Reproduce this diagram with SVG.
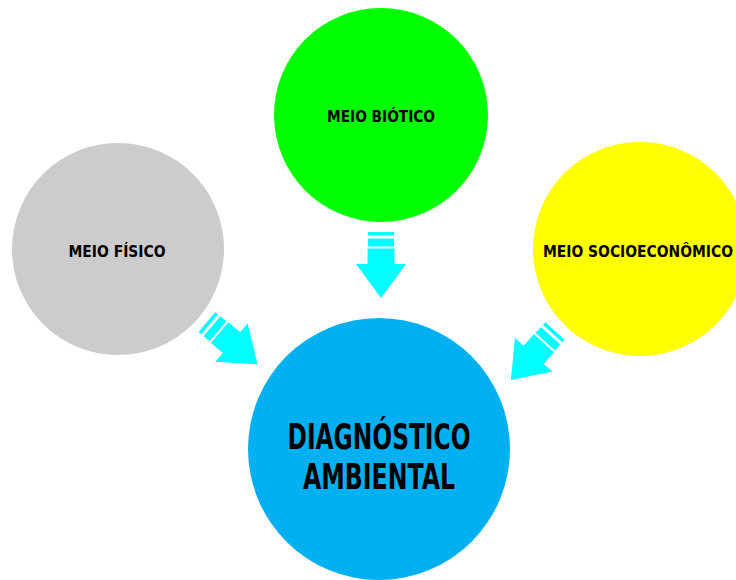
<svg xmlns="http://www.w3.org/2000/svg" width="736" height="580" viewBox="0 0 736 580">
<style>
.t{font-family:"DejaVu Sans Condensed","Liberation Sans",sans-serif;fill:#000;text-anchor:middle}
.s{font-size:16px;font-weight:bold}
.b{font-size:36px;font-weight:bold}
.a{fill:#00FFFF}
</style>
<defs>
<g id="arr">
<rect x="-13" y="0" width="26" height="3.5"/>
<rect x="-13" y="6.5" width="26" height="8"/>
<polygon points="-13.5,16.5 13.5,16.5 13.5,32 25,32 0,66 -25,32 -13.5,32"/>
</g>
</defs>
<rect width="736" height="580" fill="#fff"/>
<g id="biotico">
<circle cx="381" cy="115" r="107" fill="#00FF00"/>
<text class="t s" x="381" y="122" textLength="108" lengthAdjust="spacingAndGlyphs">MEIO BIÓTICO</text>
</g>
<g id="fisico">
<circle cx="118" cy="249" r="106" fill="#CCCCCC"/>
<text class="t s" x="117" y="257" textLength="97" lengthAdjust="spacingAndGlyphs">MEIO FÍSICO</text>
</g>
<g id="socio">
<circle cx="640" cy="249" r="107" fill="#FFFF00"/>
<text class="t s" x="638" y="257" textLength="190" lengthAdjust="spacingAndGlyphs">MEIO SOCIOECONÔMICO</text>
</g>
<g id="diagnostico">
<circle cx="379" cy="449" r="131" fill="#00B0F0"/>
<text class="t b" x="379" y="449" textLength="183" lengthAdjust="spacingAndGlyphs">DIAGNÓSTICO</text>
<text class="t b" x="379" y="489" textLength="152" lengthAdjust="spacingAndGlyphs">AMBIENTAL</text>
</g>
<g id="connectors" class="a">
<use href="#arr" transform="translate(381,232)"/>
<use href="#arr" transform="translate(207,322) rotate(-50)"/>
<use href="#arr" transform="translate(555,331) rotate(42)"/>
</g>
</svg>
